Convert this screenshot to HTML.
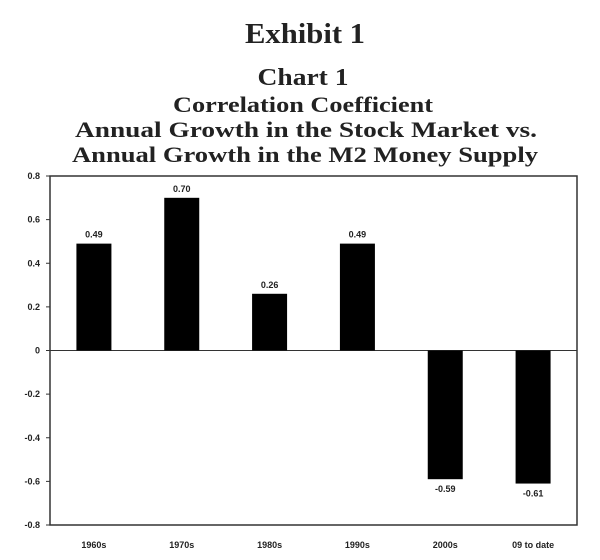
<!DOCTYPE html>
<html><head><meta charset="utf-8"><style>
html,body{margin:0;padding:0;background:#fff;}
svg{display:block;}
.t{font-family:"Liberation Serif",serif;font-weight:bold;fill:#222;text-anchor:middle;}
.ax{font-family:"Liberation Sans",sans-serif;font-size:9px;fill:#222;font-weight:bold;}
</style></head><body>
<svg id="chart" width="600" height="560">
<text class="t" x="305" y="43" font-size="29" textLength="120" lengthAdjust="spacingAndGlyphs">Exhibit 1</text>
<text class="t" x="303" y="85" font-size="24" textLength="91" lengthAdjust="spacingAndGlyphs">Chart 1</text>
<text class="t" x="303" y="112" font-size="22" textLength="260" lengthAdjust="spacingAndGlyphs">Correlation Coefficient</text>
<text class="t" x="306" y="137" font-size="22" textLength="462" lengthAdjust="spacingAndGlyphs">Annual Growth in the Stock Market vs.</text>
<text class="t" x="305" y="162" font-size="22" textLength="466" lengthAdjust="spacingAndGlyphs">Annual Growth in the M2 Money Supply</text>
<rect x="50" y="176" width="527" height="349" fill="none" stroke="#333" stroke-width="1.5"/>
<g id="plot"></g>
</svg>
<script>
const categories = ["1960s","1970s","1980s","1990s","2000s","09 to date"];
const values = [0.49, 0.70, 0.26, 0.49, -0.59, -0.61];
const valueLabels = ["0.49","0.70","0.26","0.49","-0.59","-0.61"];
const yTicks = [0.8,0.6,0.4,0.2,0,-0.2,-0.4,-0.6,-0.8];
const yTickLabels = ["0.8","0.6","0.4","0.2","0","-0.2","-0.4","-0.6","-0.8"];

const NS="http://www.w3.org/2000/svg";
const g=document.getElementById('plot');
const L=50,R=577,T=176,B=525,yMin=-0.8,yMax=0.8;
const y=v=>B-(v-yMin)/(yMax-yMin)*(B-T);
const bw=(R-L)/categories.length;
const xc=i=>L+bw*(i+0.5);
function mk(tag,attrs,txt){const e=document.createElementNS(NS,tag);for(const k in attrs)e.setAttribute(k,attrs[k]);if(txt!=null)e.textContent=txt;g.appendChild(e);return e;}
yTicks.forEach((v,i)=>{
  const tk=mk('line',{x1:L-4,x2:L,y1:y(v),y2:y(v),stroke:'#333'});
  
  
  const t=mk('text',{x:L-10,y:y(v)+3,'text-anchor':'end',class:'ax'},yTickLabels[i]);
  
  
});
const zl=mk('line',{x1:L,x2:R,y1:y(0),y2:y(0),stroke:'#333','stroke-width':1});


const barW=35;
categories.forEach((c,i)=>{
  const v=values[i];
  const top=Math.min(y(v),y(0)), h=Math.abs(y(v)-y(0));
  const r=mk('rect',{x:xc(i)-barW/2,y:top,width:barW,height:h,fill:'#000'});
  
  
  const ly=v>=0?y(v)-6:y(v)+13;
  const lt=mk('text',{x:xc(i),y:ly,'text-anchor':'middle',class:'ax'},valueLabels[i]);
  
  
  const cl=mk('text',{x:xc(i),y:548,'text-anchor':'middle',class:'ax'},c);
  
  
});
</script>
</body></html>
